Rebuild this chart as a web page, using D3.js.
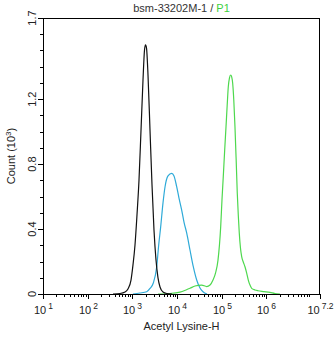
<!DOCTYPE html>
<html><head><meta charset="utf-8">
<script src="https://cdn.jsdelivr.net/npm/d3@7/dist/d3.min.js"></script>
<style>body{margin:0;background:#fff}svg{display:block}text{font-family:"Liberation Sans",Arial,sans-serif}</style>
</head><body>
<script>
const titleMain = "bsm-33202M-1 / ";
const titleGate = "P1";
const xTitle = "Acetyl Lysine-H";
const yTitle = "Count (10";
const yTickVals = [0, 0.4, 0.8, 1.2, 1.7];
const xTickExps = [1, 2, 3, 4, 5, 6, 7.2];

const blackX = [369,530,685,798,933,1033,1146,1270,1409,1563,1731,1871,1969,2075,2240,2483,2754,3050,3383,3750,4159,4853,5960,7710];
const blackY = [0,0.003,0.012,0.031,0.086,0.179,0.302,0.487,0.702,1.010,1.318,1.503,1.535,1.515,1.349,1.010,0.671,0.394,0.209,0.099,0.043,0.012,0.003,0];

const blueX = [1030,1480,2094,2483,2944,3508,3888,4310,4853,5380,6280,7590,8550,9820,11060,12710,14310,16440,19500,23120,27540,32660,38110,46860];
const blueY = [0,0.006,0.014,0.034,0.068,0.168,0.302,0.415,0.561,0.659,0.727,0.743,0.727,0.661,0.591,0.517,0.443,0.376,0.271,0.168,0.086,0.037,0.014,0];

const greenX = [3750,6950,11640,15850,19500,25240,35650,46130,54700,63860,72640,82600,94900,101400,108400,116600,124800,132700,140400,149300,158800,167200,176000,186300,198100,210700,223100,234800,247300,263000,279800,304000,331800,362200,393500,429600,468800,555700,648700,883000,1202000,1556000,2014000];
const greenY = [0,0.003,0.012,0.025,0.035,0.049,0.055,0.046,0.055,0.086,0.129,0.209,0.415,0.579,0.723,0.887,1.030,1.164,1.277,1.331,1.349,1.337,1.298,1.195,1.030,0.825,0.620,0.487,0.376,0.283,0.230,0.197,0.168,0.129,0.086,0.055,0.035,0.025,0.020,0.015,0.010,0.003,0];

const W = 334, H = 337;
const m = {l: 43, r: 320, t: 18, b: 294};
const svg = d3.select("body").append("svg").attr("width", W).attr("height", H);

const x = d3.scaleLog().domain([10, Math.pow(10, 7.2)]).range([m.l, m.r]);
const y = d3.scaleLinear().domain([0, 1.7]).range([m.b, m.t]);

const line = d3.line().x(d => x(d[0])).y(d => y(d[1])).curve(d3.curveMonotoneX);
const series = [
  {xs: blueX, ys: blueY, c: "#2eaad8"},
  {xs: greenX, ys: greenY, c: "#4ed84e"},
  {xs: blackX, ys: blackY, c: "#111"}
];
series.forEach(s => {
  svg.append("path").datum(s.xs.map((v, i) => [v, s.ys[i]]))
    .attr("d", line).attr("fill", "none").attr("stroke", s.c).attr("stroke-width", 1.2);
});

svg.append("rect").attr("x", m.l + 0.5).attr("y", m.t + 0.5)
  .attr("width", m.r - m.l - 1).attr("height", m.b - m.t)
  .attr("fill", "none").attr("stroke", "#000").attr("stroke-width", 1);

const minor = [];
for (let e = 1; e < 7.2; e++) for (let k = 2; k <= 9; k++) {
  const v = k * Math.pow(10, e);
  if (v < Math.pow(10, 7.2)) minor.push(v);
}
const gx = svg.append("g");
minor.forEach(v => gx.append("line").attr("x1", Math.round(x(v)) + 0.5).attr("x2", Math.round(x(v)) + 0.5)
  .attr("y1", m.b).attr("y2", m.b + 3).attr("stroke", "#000"));
xTickExps.forEach(e => {
  const px = Math.round(x(Math.pow(10, e))) + 0.5;
  gx.append("line").attr("x1", px).attr("x2", px).attr("y1", m.b).attr("y2", m.b + 5).attr("stroke", "#000");
  const t = gx.append("text").attr("x", px).attr("y", 314).attr("text-anchor", "middle")
    .attr("font-size", 11).attr("fill", "#222");
  t.append("tspan").text("10");
  t.append("tspan").attr("dx", 2).attr("dy", -5).attr("font-size", 8.5).text(String(e));
});

const gy = svg.append("g");
for (let i = 0; i <= 17; i++) {
  const v = i / 10;
  const py = Math.round(y(v)) + 0.5;
  const major = yTickVals.some(t => Math.abs(t - v) < 1e-9);
  gy.append("line").attr("x1", m.l - (major ? 5 : 3)).attr("x2", m.l).attr("y1", py).attr("y2", py).attr("stroke", "#000");
}
yTickVals.forEach(v => {
  const py = y(v);
  gy.append("text").attr("transform", `translate(36,${py}) rotate(-90)`)
    .attr("text-anchor", "middle").attr("font-size", 11).attr("fill", "#222")
    .text(String(v));
});

const tt = svg.append("text").attr("x", 181.5).attr("y", 12).attr("text-anchor", "middle").attr("font-size", 11);
tt.append("tspan").attr("fill", "#333").text(titleMain);
tt.append("tspan").attr("fill", "#3ecf3e").text(titleGate);

svg.append("text").attr("x", 181.5).attr("y", 330).attr("text-anchor", "middle")
  .attr("font-size", 11).attr("fill", "#222").text(xTitle);

const yt = svg.append("text").attr("transform", `translate(15,${(m.t + m.b) / 2}) rotate(-90)`)
  .attr("text-anchor", "middle").attr("font-size", 11).attr("fill", "#222");
yt.append("tspan").text(yTitle);
yt.append("tspan").attr("dy", -4).attr("font-size", 8).text("3");
yt.append("tspan").attr("dy", 4).text(")");
</script>
</body></html>
